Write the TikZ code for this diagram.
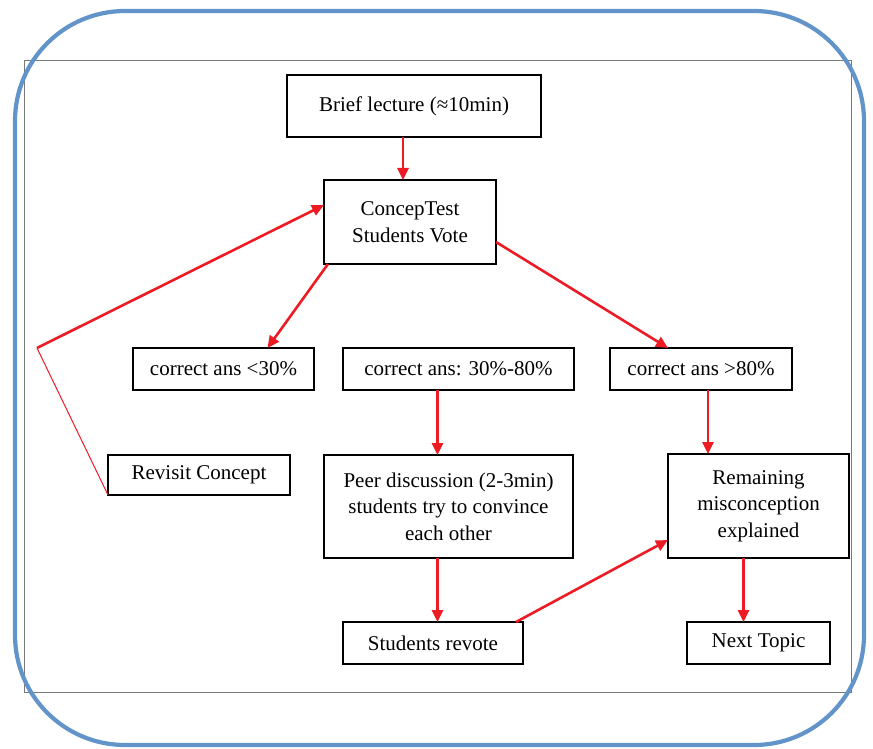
\documentclass[tikz,border=0pt]{standalone}
\usepackage{fontspec}
\setmainfont{Liberation Serif}
\usetikzlibrary{arrows.meta, calc}
\definecolor{framebl}{RGB}{98, 148, 202}
\definecolor{arrred}{RGB}{237, 28, 36}
\definecolor{pagegray}{RGB}{120, 120, 120}

\begin{document}
\begin{tikzpicture}[x=1pt, y=-1pt,
  stepbox/.style={rectangle, draw=black, line width=1.3pt,
    outer sep=0pt, inner sep=2pt, align=center,
    font=\fontsize{21pt}{26.5pt}\selectfont},
  arr/.style={-{Triangle[length=12pt, width=11pt]}, line width=2.6pt, color=arrred},
  thinline/.style={line width=1pt, color=arrred}
]
\useasboundingbox (0,0) rectangle (873,749);
% page frame and outer blue border
\draw[pagegray, line width=0.9pt] (24,60) rectangle (851,692);
\draw[framebl, line width=4.2pt, rounded corners=110pt] (15,11) rectangle (864,745);

\node[stepbox, minimum width=254pt, minimum height=62pt] at (414, 106)   (lecture) {Brief lecture (≈10min)};
\node[stepbox, minimum width=172pt, minimum height=84pt] at (410, 222)   (concept) {ConcepTest\\Students Vote};
\node[stepbox, minimum width=181pt, minimum height=42pt] at (223.5, 369) (low)     {correct ans <30\%};
\node[stepbox, minimum width=231pt, minimum height=42pt] at (458.5, 369) (mid)     {correct ans: 30\%-80\%};
\node[stepbox, minimum width=182pt, minimum height=42pt] at (701, 369)   (high)    {correct ans >80\%};
\node[stepbox, minimum width=182pt, minimum height=40pt] at (199, 475)   (revisit) {Revisit Concept};
\node[stepbox, minimum width=249pt, minimum height=103pt] at (448.5, 506.5) (peer) {Peer discussion (2-3min)\\students try to convince\\each other};
\node[stepbox, minimum width=181pt, minimum height=104pt] at (758.5, 506) (remain) {Remaining\\misconception\\explained};
\node[stepbox, minimum width=180pt, minimum height=42pt] at (433, 643)   (revote)  {Students revote};
\node[stepbox, minimum width=143pt, minimum height=42pt] at (758.5, 643) (next)    {Next Topic};

\coordinate (bend) at (37, 348);

\draw[arr] ([xshift=-11pt]lecture.south) -- ([xshift=-11pt]lecture.south |- concept.north);
\draw[arr] ([xshift=4pt]concept.south west) -- ([xshift=44pt]low.north);
\draw[arr] ([yshift=-20pt]concept.east) -- ([xshift=-33pt]high.north);
\draw[arr] ([xshift=-21pt]mid.south) -- ([xshift=-21pt]mid.south |- peer.north);
\draw[arr] ([xshift=7pt]high.south) -- ([xshift=7pt]high.south |- remain.north);
\draw[arr] ([xshift=-11pt]peer.south) -- ([xshift=-11pt]peer.south |- revote.north);
\draw[arr] ([xshift=-7pt]revote.north east) -- ([yshift=-34pt]remain.west);
\draw[arr] ([xshift=-15pt]remain.south) -- ([xshift=-15pt]remain.south |- next.north);
\draw[thinline] (revisit.south west) -- (bend);
\draw[arr] (bend) -- ([yshift=17pt]concept.west);
\end{tikzpicture}
\end{document}
